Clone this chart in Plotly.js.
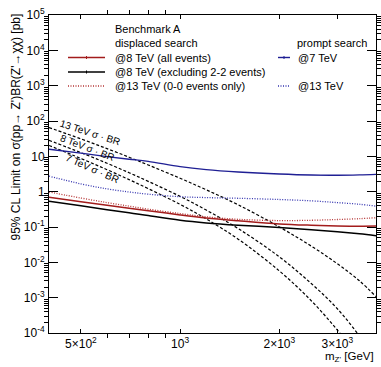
<!DOCTYPE html>
<html>
<head>
<meta charset="utf-8">
<script src="https://cdn.plot.ly/plotly-3.0.1.min.js"></script>
<style>html,body{margin:0;padding:0;background:#fff;}#plot{width:381px;height:367px;}</style>
</head>
<body>
<div id="plot"></div>
<script>
// ---- data ----
const mass = [400, 500, 600, 700, 800, 1000, 1200, 1500, 2000, 2500, 3000, 3500, 3930];
const prompt7 = [15.8, 12.3, 9.8, 8.3, 7.2, 5.1, 4.2, 3.6, 3.15, 2.95, 2.92, 2.99, 3.09];
const prompt13 = [2.75, 1.66, 1.20, 0.98, 0.85, 0.72, 0.68, 0.65, 0.60, 0.55, 0.49, 0.44, 0.39];
const displaced8All = [0.70, 0.52, 0.41, 0.34, 0.29, 0.22, 0.18, 0.15, 0.122, 0.112, 0.107, 0.105, 0.106];
const displaced8Excl = [0.54, 0.40, 0.31, 0.255, 0.21, 0.155, 0.13, 0.112, 0.097, 0.084, 0.073, 0.064, 0.057];
const displaced13 = [0.98, 0.66, 0.49, 0.39, 0.32, 0.24, 0.195, 0.165, 0.152, 0.155, 0.163, 0.172, 0.183];
const xsec13 = [65.2, 31.2, 16.5, 9.46, 5.70, 2.39, 1.13, 0.424, 0.1005, 0.0288, 0.00912, 0.00301, 0.00107];
const xsec8 = [28.4, 12.7, 6.37, 3.44, 1.96, 0.735, 0.301, 0.0902, 0.0143, 0.00251, 4.86e-4, 8.28e-5, 1.86e-5];
const xsec7 = [20.3, 8.69, 4.19, 2.19, 1.22, 0.437, 0.169, 0.0453, 0.00571, 8.2e-4, 1.21e-4, 1.9e-5, 3e-6];

const xTickVals = [500, 1000, 2000, 3000];
const xTickText = ['5×10<sup>2</sup>', '10<sup>3</sup>', '2×10<sup>3</sup>', '3×10<sup>3</sup>'];
const yTickVals = [1e-4, 1e-3, 1e-2, 1e-1, 1, 10, 1e2, 1e3, 1e4, 1e5];
const yTickText = ['10<sup>-4</sup>', '10<sup>-3</sup>', '10<sup>-2</sup>', '10<sup>-1</sup>', '1', '10',
                   '10<sup>2</sup>', '10<sup>3</sup>', '10<sup>4</sup>', '10<sup>5</sup>'];
const seriesNames = ['@8 TeV (all events)', '@8 TeV (excluding 2-2 events)', '@13 TeV (0-0 events only)', '@7 TeV', '@13 TeV'];
const theoryNames = ['13 TeV σ · BR', '8 TeV σ · BR', '7 TeV σ · BR'];

// ---- layout geometry (pixels of the 381x367 canvas) ----
const L = 49, R = 376, T = 15, B = 333;
const px = p => (p - L) / (R - L);
const py = p => (B - p) / (B - T);

const RED = '#a31c1c', BLACK = '#000000', BLUE = '#1f1f94', BLUE_D = '#3535b0', RED_D = '#b53535';
const FONT = 'Liberation Sans, Arial, Helvetica, sans-serif';

function line(y, color, dash, width, name) {
  return {x: mass, y: y, type: 'scatter', mode: 'lines', name: name, showlegend: false,
          hoverinfo: 'skip', line: {color: color, dash: dash, width: width, shape: 'spline', smoothing: 1}};
}
const dashPat = '3px,2px';
const dotPat = '1px,1.5px';
const traces = [
  line(xsec13, BLACK, dashPat, 1.2, theoryNames[0]),
  line(xsec8, BLACK, dashPat, 1.2, theoryNames[1]),
  line(xsec7, BLACK, dashPat, 1.2, theoryNames[2]),
  line(prompt13, BLUE_D, dotPat, 1.3, seriesNames[4]),
  line(prompt7, BLUE, 'solid', 1.4, seriesNames[3]),
  line(displaced13, RED_D, dotPat, 1.3, seriesNames[2]),
  line(displaced8All, RED, 'solid', 1.5, seriesNames[0]),
  line(displaced8Excl, BLACK, 'solid', 1.5, seriesNames[1])
];

function minorDecades(lo, hi) {
  const out = [];
  for (let e = lo; e <= hi; e++) for (let k = 2; k <= 9; k++) out.push(k * Math.pow(10, e));
  return out;
}
const xMinor = [600, 700, 800, 900];
const xRange = [Math.log10(400), Math.log10(3930)];

const txt = (x, y, text, xanchor, size, extra) => Object.assign({
  xref: 'paper', yref: 'paper', x: x, y: y, text: text, showarrow: false,
  xanchor: xanchor, yanchor: 'middle', font: {family: FONT, size: size, color: '#000'}
}, extra || {});

const annotations = [
  txt(px(113), py(29), 'Benchmark A', 'left', 11),
  txt(px(113), py(43), 'displaced search', 'left', 11),
  txt(px(113), py(57.5), seriesNames[0], 'left', 11),
  txt(px(113), py(72), seriesNames[1], 'left', 11),
  txt(px(113), py(86), seriesNames[2], 'left', 11),
  txt(px(369), py(43), 'prompt search', 'right', 11),
  txt(px(296), py(57.5), seriesNames[3], 'left', 11),
  txt(px(296), py(86), seriesNames[4], 'left', 11),
  txt(px(90), py(132), theoryNames[0], 'center', 10, {textangle: 18}),
  txt(px(87), py(147), theoryNames[1], 'center', 10, {textangle: 21}),
  txt(px(92), py(168), theoryNames[2], 'center', 10, {textangle: 24}),
  txt(px(16), py(12), '95% CL Limit on σ(pp→ Z\')BR(Z\'→χχ) [pb]', 'center', 12,
      {textangle: -90, yanchor: 'top'}),
  txt(1, py(366), 'm<sub>Z\'</sub> [GeV]', 'right', 11.5, {yanchor: 'bottom'})
];

const seg = (x0, x1, y, color, dash, w) => ({type: 'line', xref: 'paper', yref: 'paper',
  x0: px(x0), x1: px(x1), y0: py(y), y1: py(y), line: {color: color, dash: dash, width: w}});
const vtick = (x, y, color) => ({type: 'line', xref: 'paper', yref: 'paper',
  x0: px(x), x1: px(x), y0: py(y - 1.5), y1: py(y + 1.5), line: {color: color, width: 1}});
const shapes = [
  seg(68, 105, 57.5, RED, 'solid', 1.5), vtick(86.5, 57.5, RED),
  seg(68, 105, 72, BLACK, 'solid', 1.5), vtick(86.5, 72, BLACK),
  seg(68, 105, 86, RED_D, dotPat, 1.3),
  seg(278, 290, 57.5, BLUE, 'solid', 1.4), vtick(284, 57.5, BLUE),
  seg(278, 290, 86, BLUE_D, dotPat, 1.3)
];

const layout = {
  width: 381, height: 367,
  margin: {l: L, r: 381 - R, t: T, b: 367 - B, pad: 0},
  paper_bgcolor: '#fff', plot_bgcolor: '#fff',
  showlegend: false,
  font: {family: FONT, size: 12, color: '#000'},
  xaxis: {
    type: 'log', range: xRange, showgrid: false, zeroline: false,
    showline: true, mirror: 'ticks', linecolor: '#000', linewidth: 1,
    ticks: 'inside', ticklen: 4, tickwidth: 1, tickcolor: '#000',
    tickmode: 'array', tickvals: xTickVals, ticktext: xTickText,
    tickfont: {family: FONT, size: 12, color: '#000'}, ticklabelstandoff: 0,
    minor: {tickmode: 'array', tickvals: xMinor, ticklen: 4, tickwidth: 1, tickcolor: '#000', showgrid: false}
  },
  xaxis2: {
    type: 'log', range: xRange, overlaying: 'x', anchor: 'y', showgrid: false, zeroline: false,
    showline: false, mirror: 'ticks', ticks: 'inside', ticklen: 9, tickwidth: 1, tickcolor: '#000',
    tickmode: 'array', tickvals: [1000], showticklabels: false
  },
  yaxis: {
    type: 'log', range: [-4, 5], showgrid: false, zeroline: false,
    showline: true, mirror: 'ticks', linecolor: '#000', linewidth: 1,
    ticks: 'inside', ticklen: 9, tickwidth: 1, tickcolor: '#000',
    tickmode: 'array', tickvals: yTickVals, ticktext: yTickText,
    tickfont: {family: FONT, size: 12, color: '#000'}, ticklabelstandoff: 1,
    minor: {tickmode: 'array', tickvals: minorDecades(-4, 4), ticklen: 4.5, tickwidth: 1, tickcolor: '#000', showgrid: false}
  },
  annotations: annotations,
  shapes: shapes
};

Plotly.newPlot('plot', traces, layout, {staticPlot: true, displayModeBar: false});
</script>
</body>
</html>
